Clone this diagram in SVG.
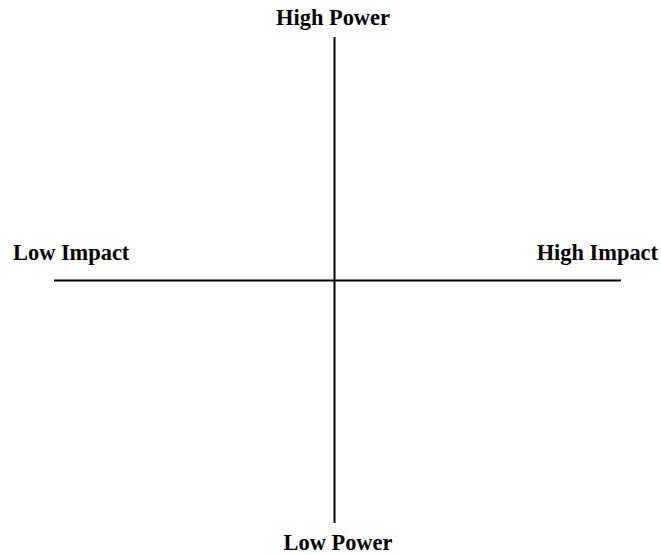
<svg xmlns="http://www.w3.org/2000/svg" width="661" height="555" viewBox="0 0 661 555">
<style>
.lbl{font-family:"Liberation Serif","Times New Roman",serif;font-weight:bold;font-size:22.4px;fill:#000}
.ax{stroke:#000;stroke-width:2;fill:none}
</style>
<rect width="661" height="555" fill="#fff"/>
<g id="connectors">
<line class="ax" x1="334.5" y1="37" x2="334.5" y2="523"/>
<line class="ax" x1="54" y1="280.5" x2="621" y2="280.5"/>
</g>
<g id="high-power"><text class="lbl" x="333" y="25" text-anchor="middle">High Power</text></g>
<g id="low-power"><text class="lbl" x="338" y="550" text-anchor="middle">Low Power</text></g>
<g id="low-impact"><text class="lbl" x="13" y="260">Low Impact</text></g>
<g id="high-impact"><text class="lbl" x="658" y="260" text-anchor="end">High Impact</text></g>
</svg>
